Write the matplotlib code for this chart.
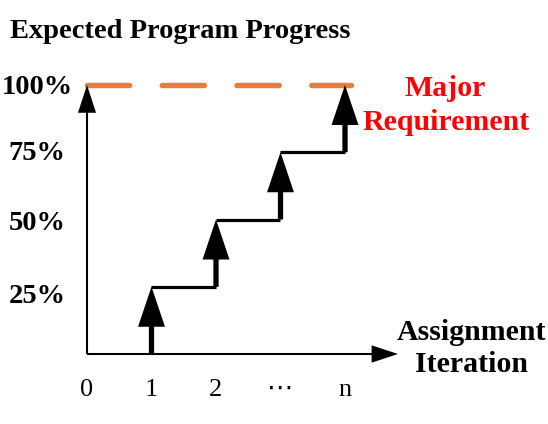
import matplotlib
matplotlib.use("Agg")
import matplotlib.pyplot as plt
from matplotlib.patches import FancyArrowPatch

# ---- data ----
iterations = [1, 2, 3, 4]
progress = [25, 50, 75, 100]
x_tick_positions = [0, 1, 2, 3, 4]
x_tick_labels = ['0', '1', '2', '\u22ef', 'n']
y_tick_values = [25, 50, 75, 100]
y_tick_labels = ['25%', '50%', '75%', '100%']
requirement_level = 100

SERIF = ['Liberation Serif', 'DejaVu Sans']
ORANGE = '#ED7D31'
RED = '#FF0000'

W, H = 548, 424
fig = plt.figure(figsize=(W / 100, H / 100), dpi=100)
ax = fig.add_axes([0, 0, 1, 1])
ax.set_axis_off()

# pixel mapping: x_px = 87 + 64.5*x ; y_px(from top) = 354 - 2.69*v
ax.set_xlim(-87 / 64.5, (W - 87) / 64.5)
ax.set_ylim((354 - H) / 2.69, 354 / 2.69)

x_end = (398 - 87) / 64.5

# requirement dashed line
ax.plot([0, (351 - 87) / 64.5], [requirement_level, requirement_level],
        color=ORANGE, lw=3.9, dashes=(7.8, 6.0), dash_capstyle='round', zorder=1)

def arrow(p0, p1, hl, hw, tw, z=3):
    a = FancyArrowPatch(p0, p1, arrowstyle=f"simple,head_length={hl},head_width={hw},tail_width={tw}",
                        mutation_scale=1, color='black', shrinkA=0, shrinkB=0, lw=0, zorder=z)
    ax.add_patch(a)

# axes arrows
arrow((0, 0), (0, requirement_level), 20, 13, 1.5)
arrow((0, 0), (x_end, 0), 19, 12.5, 1.5)

# steps
prev = 0
for i, (xi, vi) in enumerate(zip(iterations, progress)):
    arrow((xi, prev), (xi, vi), 28.8, 19.4, 3.8, z=4)
    if i + 1 < len(iterations):
        ax.plot([xi, iterations[i + 1]], [vi, vi], color='black', lw=2.3,
                solid_capstyle='butt', zorder=3)
    prev = vi

# tick labels
for xp, lab in zip(x_tick_positions, x_tick_labels):
    ax.text(xp, (354 - 390) / 2.69, lab, ha='center', va='center',
            fontsize=19, family=SERIF)
label_offset_px = [-10, -4, -1, -3]
for v, lab, off in zip(y_tick_values, y_tick_labels, label_offset_px):
    ax.text((37 - 87) / 64.5, v + off / 2.69, lab, ha='center', va='center',
            fontsize=20.5, fontweight='bold', family=SERIF)

# titles / annotations
fig.text(10 / W, 1 - 32 / H, 'Expected Program Progress', ha='left', va='center',
         fontsize=20.5, fontweight='bold', family=SERIF)
fig.text(445 / W, 1 - 88 / H, 'Major', ha='center', va='center',
         fontsize=21.5, fontweight='bold', color=RED, family=SERIF)
fig.text(446 / W, 1 - 123 / H, 'Requirement', ha='center', va='center',
         fontsize=21.5, fontweight='bold', color=RED, family=SERIF)
fig.text(472 / W, 1 - 332 / H, 'Assignment', ha='center', va='center',
         fontsize=21.5, fontweight='bold', family=SERIF)
fig.text(472 / W, 1 - 365 / H, 'Iteration', ha='center', va='center',
         fontsize=21.5, fontweight='bold', family=SERIF)

fig.savefig('out.png', dpi=100)
